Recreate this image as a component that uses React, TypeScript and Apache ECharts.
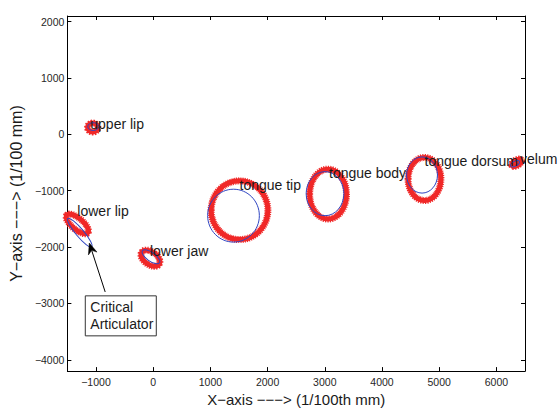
import React, { useEffect, useRef } from "react";
import * as echarts from "echarts";

// Axis ranges and tick values
const X_MIN = -1500;
const X_MAX = 6500;
const Y_MIN = -4200;
const Y_MAX = 2100;
const xTicks = [-1000, 0, 1000, 2000, 3000, 4000, 5000, 6000];
const yTicks = [-4000, -3000, -2000, -1000, 0, 1000, 2000];

// Articulators
const articulators = ["upper lip", "lower lip", "lower jaw", "tongue tip", "tongue body", "tongue dorsum", "velum"];

// Red (sampled) ellipses: [cx, cy, rx, ry, angleDeg]
const redEllipses = [
  [-1057, 121, 90, 80, 0],
  [-1326, -1589, 240, 100, -40],
  [-48, -2197, 185, 115, -35],
  [1509, -1346, 496, 521, 0],
  [3057, -1060, 322, 443, 0],
  [4743, -791, 287, 382, 0],
  [6352, -504, 95, 50, 30],
];

// Blue (fitted) ellipses: [cx, cy, rx, ry, angleDeg]
const blueEllipses = [
  [-1048, 138, 96, 69, 0],
  [-1283, -1745, 325, 70, -50],
  [-39, -2171, 182, 78, -35],
  [1404, -1442, 452, 469, 0],
  [3004, -1052, 330, 391, 0],
  [4700, -721, 270, 321, 0],
  [6326, -521, 87, 43, 30],
];

// Label anchor points (left edge, middle) in data units
const labelPoints = [
  [-1100, 190],
  [-1326, -1355],
  [-57, -2067],
  [1509, -903],
  [3074, -678],
  [4743, -469],
  [6413, -435],
];

// Annotation: arrow tip, arrow tail, box top-left (data units)
const arrowTip = [-1117, -1928];
const arrowTail = [-839, -2796];
const boxCorner = [-1187, -2865];
const annotationText = "Critical\nArticulator";

const FONT = "'Liberation Sans', Arial, Helvetica, sans-serif";
const RED = "#f02828";
const BLUE = "#2f45c2";

const fmt = (v: number) => (v < 0 ? "\u2212" + Math.abs(v) : String(v));

function ellipseRenderer(color: string, lineWidth: number, fuzzy: boolean) {
  return (params: any, api: any) => {
    const c = api.coord([api.value(0), api.value(1)]);
    const rx = Math.abs(api.size([api.value(2), 0])[0]);
    const ry = Math.abs(api.size([0, api.value(3)])[1]);
    const rot = (api.value(4) * Math.PI) / 180;
    const children: any[] = [
      {
        type: "ellipse",
        x: c[0],
        y: c[1],
        rotation: rot,
        shape: { cx: 0, cy: 0, rx, ry },
        style: { fill: "none", stroke: color, lineWidth },
      },
    ];
    if (fuzzy) {
      children.push({
        type: "ellipse",
        x: c[0],
        y: c[1],
        rotation: rot,
        shape: { cx: 0, cy: 0, rx, ry },
        style: { fill: "none", stroke: color, lineWidth: lineWidth + 2, lineDash: [1, 1] },
      });
    }
    return { type: "group", children };
  };
}

export default function App() {
  const ref = useRef<HTMLDivElement>(null);
  useEffect(() => {
    if (!ref.current) return;
    const chart = echarts.init(ref.current, undefined, { renderer: "svg" });
    const axisLine = { show: true, onZero: false, lineStyle: { color: "#000", width: 1 } };
    const tick = (vals: number[]) => ({
      show: true,
      inside: true,
      length: 4,
      customValues: vals,
      lineStyle: { color: "#000", width: 1 },
    });
    const option: any = {
      animation: false,
      backgroundColor: "#fff",
      grid: { left: 65, top: 16, width: 460, height: 363 },
      xAxis: [
        {
          type: "value",
          min: X_MIN,
          max: X_MAX,
          position: "bottom",
          axisLine,
          axisTick: tick(xTicks),
          axisLabel: { customValues: xTicks, formatter: fmt, fontSize: 10.5, color: "#262626", margin: 5, fontFamily: FONT },
          splitLine: { show: false },
          name: "X\u2212axis \u2212\u2212\u2212> (1/100th mm)",
          nameLocation: "middle",
          nameGap: 19,
          nameTextStyle: { fontSize: 15, color: "#1a1a1a", fontFamily: FONT },
        },
        {
          type: "value",
          min: X_MIN,
          max: X_MAX,
          position: "top",
          axisLine,
          axisTick: tick(xTicks),
          axisLabel: { show: false },
          splitLine: { show: false },
        },
      ],
      yAxis: [
        {
          type: "value",
          min: Y_MIN,
          max: Y_MAX,
          position: "left",
          axisLine,
          axisTick: tick(yTicks),
          axisLabel: { customValues: yTicks, formatter: fmt, fontSize: 10.5, color: "#262626", margin: 3, fontFamily: FONT },
          splitLine: { show: false },
          name: "Y\u2212axis \u2212\u2212\u2212> (1/100 mm)",
          nameLocation: "middle",
          nameGap: 33,
          nameRotate: 90,
          nameTextStyle: { fontSize: 16, color: "#1a1a1a", fontFamily: FONT },
        },
        {
          type: "value",
          min: Y_MIN,
          max: Y_MAX,
          position: "right",
          axisLine,
          axisTick: tick(yTicks),
          axisLabel: { show: false },
          splitLine: { show: false },
        },
      ],
      series: [
        {
          type: "custom",
          name: "samples",
          xAxisIndex: 0,
          yAxisIndex: 0,
          data: redEllipses,
          encode: { x: 0, y: 1 },
          renderItem: ellipseRenderer(RED, 5, true),
          z: 2,
        },
        {
          type: "custom",
          name: "fit",
          xAxisIndex: 0,
          yAxisIndex: 0,
          data: blueEllipses,
          encode: { x: 0, y: 1 },
          renderItem: ellipseRenderer(BLUE, 1, false),
          z: 3,
        },
        {
          type: "custom",
          name: "labels",
          xAxisIndex: 0,
          yAxisIndex: 0,
          data: labelPoints,
          encode: { x: 0, y: 1 },
          renderItem: (params: any, api: any) => {
            const p = api.coord([api.value(0), api.value(1)]);
            return {
              type: "text",
              x: p[0],
              y: p[1],
              style: {
                text: articulators[params.dataIndex],
                fill: "#1a1a1a",
                fontSize: 14,
                fontFamily: FONT,
                align: "left",
                verticalAlign: "middle",
              },
            };
          },
          z: 4,
        },
        {
          type: "custom",
          name: "annotation",
          xAxisIndex: 0,
          yAxisIndex: 0,
          data: [[arrowTip[0], arrowTip[1], arrowTail[0], arrowTail[1], boxCorner[0], boxCorner[1]]],
          encode: { x: 0, y: 1 },
          renderItem: (params: any, api: any) => {
            const tip = api.coord([api.value(0), api.value(1)]);
            const tail = api.coord([api.value(2), api.value(3)]);
            const box = api.coord([api.value(4), api.value(5)]);
            const dx = tip[0] - tail[0];
            const dy = tip[1] - tail[1];
            const len = Math.sqrt(dx * dx + dy * dy);
            const ux = dx / len;
            const uy = dy / len;
            const nx = -uy;
            const ny = ux;
            const L = 11;
            const W = 4.5;
            const bx = tip[0] - ux * L;
            const by = tip[1] - uy * L;
            const notchX = tip[0] - ux * L * 0.7;
            const notchY = tip[1] - uy * L * 0.7;
            return {
              type: "group",
              children: [
                {
                  type: "line",
                  shape: { x1: tail[0], y1: tail[1], x2: notchX, y2: notchY },
                  style: { stroke: "#000", lineWidth: 1 },
                },
                {
                  type: "polygon",
                  shape: {
                    points: [
                      [tip[0], tip[1]],
                      [bx + nx * W, by + ny * W],
                      [notchX, notchY],
                      [bx - nx * W, by - ny * W],
                    ],
                  },
                  style: { fill: "#000", stroke: "#000", lineWidth: 0.5 },
                },
                {
                  type: "rect",
                  shape: { x: box[0], y: box[1], width: 71, height: 40 },
                  style: { fill: "#fff", stroke: "#333", lineWidth: 1 },
                },
                {
                  type: "text",
                  x: box[0] + 5,
                  y: box[1] + 3,
                  style: {
                    text: annotationText,
                    fill: "#1a1a1a",
                    fontSize: 14,
                    lineHeight: 17,
                    fontFamily: FONT,
                    align: "left",
                    verticalAlign: "top",
                  },
                },
              ],
            };
          },
          z: 5,
        },
      ],
    };
    chart.setOption(option);
    return () => chart.dispose();
  }, []);
  return (
    <div
      ref={ref}
      style={{ position: "absolute", left: 0, top: 0, width: 558, height: 412, background: "#fff" }}
    />
  );
}
